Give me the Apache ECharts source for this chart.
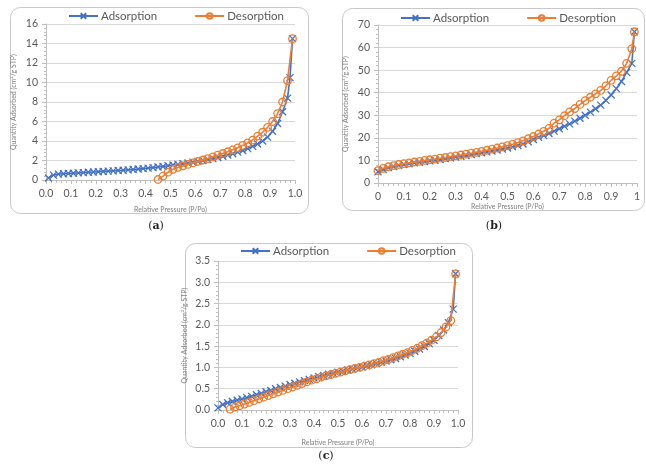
<!DOCTYPE html>
<html><head><meta charset="utf-8">
<script src="https://cdn.jsdelivr.net/npm/echarts@6/dist/echarts.min.js"></script>
<style>html,body{margin:0;padding:0;background:#fff}#c{width:646px;height:464px}</style>
</head><body><div id="c"></div>
<script>
// ---- Panel (a) ----
const aAdsX = [0.01,0.03,0.05,0.07,0.09,0.11,0.13,0.15,0.17,0.19,0.21,0.23,0.25,0.27,0.29,0.31,0.33,0.35,0.37,0.39,0.41,0.43,0.45,0.47,0.49,0.51,0.53,0.55,0.57,0.59,0.61,0.63,0.65,0.67,0.69,0.71,0.73,0.75,0.77,0.79,0.81,0.83,0.85,0.87,0.89,0.91,0.93,0.95,0.97,0.98,0.99];
const aAdsY = [0.2,0.5,0.6,0.64,0.67,0.7,0.73,0.76,0.79,0.82,0.85,0.88,0.91,0.94,0.97,1.0,1.04,1.08,1.12,1.17,1.22,1.27,1.33,1.39,1.46,1.53,1.6,1.67,1.75,1.83,1.91,2.0,2.1,2.2,2.31,2.43,2.56,2.7,2.86,3.03,3.22,3.45,3.7,4.0,4.4,5.0,5.8,7.0,8.4,10.5,14.5];
const aDesX = [0.45,0.47,0.49,0.51,0.53,0.55,0.57,0.59,0.61,0.63,0.65,0.67,0.69,0.71,0.73,0.75,0.77,0.79,0.81,0.83,0.85,0.87,0.89,0.91,0.93,0.95,0.97,0.99];
const aDesY = [0.05,0.4,0.8,1.1,1.3,1.45,1.6,1.75,1.9,2.05,2.2,2.38,2.55,2.72,2.9,3.1,3.3,3.55,3.8,4.1,4.5,4.9,5.4,6.0,6.8,8.0,10.2,14.5];
// ---- Panel (b) ----
const bAdsX = [0,0.02,0.04,0.06,0.08,0.1,0.12,0.14,0.16,0.18,0.2,0.22,0.24,0.26,0.28,0.3,0.32,0.34,0.36,0.38,0.4,0.42,0.44,0.46,0.48,0.5,0.52,0.54,0.56,0.58,0.6,0.62,0.64,0.66,0.68,0.7,0.72,0.74,0.76,0.78,0.8,0.82,0.84,0.86,0.88,0.9,0.92,0.94,0.96,0.98,0.99];
const bAdsY = [5,6,6.8,7.3,7.8,8.2,8.5,8.9,9.2,9.5,9.8,10.1,10.4,10.8,11.1,11.5,11.8,12.2,12.6,13,13.4,13.8,14.2,14.6,15.0,15.5,16,16.6,17.3,18.3,19.3,20.2,21.0,21.9,23.0,24.0,25.1,26.2,27.4,28.7,30.0,31.4,32.9,34.5,36.6,39,41.8,45,49,53,67];
const bDesX = [0,0.02,0.04,0.06,0.08,0.1,0.12,0.14,0.16,0.18,0.2,0.22,0.24,0.26,0.28,0.3,0.32,0.34,0.36,0.38,0.4,0.42,0.44,0.46,0.48,0.5,0.52,0.54,0.56,0.58,0.6,0.62,0.64,0.66,0.68,0.7,0.72,0.74,0.76,0.78,0.8,0.82,0.84,0.86,0.88,0.9,0.92,0.94,0.96,0.98,0.99];
const bDesY = [5.5,6.5,7.2,7.7,8.2,8.6,8.9,9.3,9.6,10,10.3,10.6,11,11.3,11.7,12,12.4,12.8,13.2,13.6,14,14.5,15,15.5,16,16.6,17.2,17.9,18.7,19.6,20.6,21.7,22.9,24.2,26.5,28,29.8,31.5,33,34.8,36.5,38,39.5,41,43,45.5,47.5,49.5,53,59.5,67];
// ---- Panel (c) ----
const cAdsX = [0,0.02,0.04,0.06,0.08,0.1,0.12,0.14,0.16,0.18,0.2,0.22,0.24,0.26,0.28,0.3,0.32,0.34,0.36,0.38,0.4,0.42,0.44,0.46,0.48,0.5,0.52,0.54,0.56,0.58,0.6,0.62,0.64,0.66,0.68,0.7,0.72,0.74,0.76,0.78,0.8,0.82,0.84,0.86,0.88,0.9,0.92,0.94,0.96,0.98,0.99];
const cAdsY = [0.05,0.13,0.17,0.2,0.23,0.26,0.29,0.32,0.36,0.39,0.43,0.46,0.5,0.53,0.56,0.6,0.63,0.66,0.69,0.72,0.75,0.78,0.81,0.84,0.86,0.89,0.91,0.94,0.96,0.99,1.01,1.04,1.06,1.09,1.12,1.15,1.18,1.21,1.25,1.29,1.33,1.38,1.43,1.49,1.56,1.64,1.75,1.88,2.05,2.37,3.2];
const cDesX = [0.05,0.07,0.09,0.11,0.13,0.15,0.17,0.19,0.21,0.23,0.25,0.27,0.29,0.31,0.33,0.35,0.37,0.39,0.41,0.43,0.45,0.47,0.49,0.51,0.53,0.55,0.57,0.59,0.61,0.63,0.65,0.67,0.69,0.71,0.73,0.75,0.77,0.79,0.81,0.83,0.85,0.87,0.89,0.91,0.93,0.95,0.97,0.99];
const cDesY = [0.02,0.07,0.1,0.14,0.18,0.22,0.26,0.3,0.34,0.38,0.42,0.46,0.5,0.54,0.58,0.62,0.66,0.7,0.73,0.77,0.8,0.83,0.86,0.89,0.92,0.95,0.98,1.0,1.03,1.06,1.09,1.12,1.16,1.19,1.23,1.27,1.31,1.35,1.4,1.45,1.51,1.57,1.64,1.72,1.82,1.95,2.1,3.2];

const seriesNames = ['Adsorption','Desorption'];
const xName = 'Relative Pressure (P/Po)';
const yName = 'Quantity Adsorbed (cm\u00B3/g STP)';
const captions = ['a','b','c'];

const BLUE = '#4472C4', ORANGE = '#ED7D31';
const FONT = 'Lato, "Open Sans", sans-serif';
const pairs = (xs, ys) => xs.map((x, i) => [x, ys[i]]);

const panels = [
  {grid:{left:46,top:24,width:249,height:156}, yMax:16, yInt:2, yFmt:v=>String(v), xFmt:v=>v.toFixed(1), xGap:26, yGap:29,
   ads:pairs(aAdsX,aAdsY), des:pairs(aDesX,aDesY), legend:{left:68,top:10}},
  {grid:{left:378,top:25,width:259,height:158}, yMax:70, yInt:10, yFmt:v=>String(v), xFmt:v=>String(Math.round(v*10)/10), xGap:20, yGap:29,
   ads:pairs(bAdsX,bAdsY), des:pairs(bDesX,bDesY), legend:{left:400,top:12}},
  {grid:{left:218,top:261,width:240,height:149}, yMax:3.5, yInt:0.5, yFmt:v=>v.toFixed(1), xFmt:v=>v.toFixed(1), xGap:29, yGap:30,
   ads:pairs(cAdsX,cAdsY), des:pairs(cDesX,cDesY), legend:{left:240,top:245}}
];

const AX = '#bfbfbf';
const option = {
  animation:false,
  backgroundColor:'#fff',
  grid: panels.map(p => Object.assign({containLabel:false}, p.grid)),
  xAxis: panels.map((p,i) => ({
    type:'value', gridIndex:i, min:0, max:1, interval:0.1,
    axisLine:{show:true, lineStyle:{color:AX, width:1}},
    axisTick:{show:true, length:4, lineStyle:{color:AX}},
    minorTick:{show:true, splitNumber:5, length:3, lineStyle:{color:AX}},
    splitLine:{show:false},
    axisLabel:{formatter:p.xFmt, fontSize:10.5, color:'#595959', fontFamily:FONT, margin:8},
    name:xName, nameLocation:'middle', nameGap:p.xGap,
    nameTextStyle:{fontSize:7, color:'#7f7f7f', fontFamily:FONT}
  })),
  yAxis: panels.map((p,i) => ({
    type:'value', gridIndex:i, min:0, max:p.yMax, interval:p.yInt,
    axisLine:{show:true, lineStyle:{color:AX, width:1}},
    axisTick:{show:true, length:4, lineStyle:{color:AX}},
    minorTick:{show:true, splitNumber:5, length:2, lineStyle:{color:AX}},
    splitLine:{show:true, lineStyle:{color:'#d9d9d9', width:1}},
    axisLabel:{formatter:p.yFmt, fontSize:10.5, color:'#595959', fontFamily:FONT, margin:8},
    name:yName, nameLocation:'middle', nameGap:p.yGap,
    nameTextStyle:{fontSize:7, color:'#7f7f7f', fontFamily:FONT}
  })),
  legend: panels.map(p => ({
    data:seriesNames, left:p.legend.left, top:p.legend.top, padding:0,
    itemWidth:29, itemHeight:7, itemGap:37,
    textStyle:{fontSize:11.5, color:'#595959', fontFamily:FONT, padding:[0,0,0,-2]}
  })),
  series: [],
  graphic: []
};

panels.forEach((p,i) => {
  option.series.push({
    type:'line', name:seriesNames[0], xAxisIndex:i, yAxisIndex:i, data:p.ads,
    symbol:'path://M0,0L10,10M10,0L0,10', symbolSize:7, showSymbol:true,
    lineStyle:{color:BLUE, width:1.6}, color:BLUE,
    itemStyle:{color:BLUE, borderColor:BLUE, borderWidth:1.3}, z:2
  });
  option.series.push({
    type:'line', name:seriesNames[1], xAxisIndex:i, yAxisIndex:i, data:p.des,
    symbol:'circle', symbolSize:7.5, showSymbol:true,
    lineStyle:{color:ORANGE, width:1.6}, color:ORANGE,
    itemStyle:{color:'rgba(255,255,255,0)', borderColor:ORANGE, borderWidth:1.3}, z:3
  });
});

// Panel frames
const frames = [
  {x:10, y:7, w:298, h:206},
  {x:342, y:8, w:302, h:202},
  {x:185, y:243, w:287, h:204}
];
frames.forEach(f => option.graphic.push({
  type:'rect', shape:{x:f.x+0.5, y:f.y+0.5, width:f.w, height:f.h, r:10},
  style:{fill:'none', stroke:'#c8c8c8', lineWidth:1}, z:-1, silent:true
}));
const capPos = [[156,226],[494,226],[326,456]];
captions.forEach((c,i) => option.graphic.push({
  type:'text', x:capPos[i][0], y:capPos[i][1],
  style:{text:'({b|'+c+'})', rich:{b:{fontWeight:'bold', fontSize:11, fontFamily:'"DejaVu Serif", serif', fill:'#222'}},
    fontSize:11, fontFamily:'"DejaVu Serif", serif', fill:'#222', align:'center', verticalAlign:'middle'}
}));

const chart = echarts.init(document.getElementById('c'), null, {renderer:'canvas'});
chart.setOption(option);
</script>
</body></html>
